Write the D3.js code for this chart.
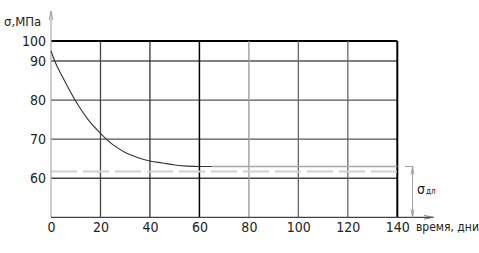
<!DOCTYPE html>
<html><head><meta charset="utf-8">
<script src="https://cdn.jsdelivr.net/npm/d3@7"></script>
<style>
body{margin:0;background:#fff;}
svg text{font-family:"Liberation Sans Narrow","DejaVu Sans Condensed",sans-serif;fill:#222;}
</style></head>
<body>
<svg id="c" width="479" height="253"></svg>
<script>
// ---- data ----
const days   = [0, 1.5, 5, 10, 15, 20, 25, 30, 35, 40, 45, 50, 55, 60, 65];
const sigma  = [95, 90, 85.5, 79.7, 75.0, 71.5, 68.6, 66.6, 65.3, 64.4, 63.9, 63.4, 63.1, 63.0, 63.0];
const plateauDays  = [65, 140];
const plateauSigma = [63, 63];
const longTermLevel = 61.7;           // σдл dashed line
const xTicks = [0, 20, 40, 60, 80, 100, 120, 140];
const yTicks = [60, 70, 80, 90, 100];
const yLabel = "σ,МПа";
const xLabel = "время, дни";

const svg = d3.select("#c");
const x = d3.scaleLinear().domain([0, 140]).range([51, 397.3]);
const y = d3.scaleLinear().domain([50, 90, 100]).range([217.3, 61, 41]);

const vColors = {20:"#444",40:"#333",60:"#000",80:"#999",100:"#666",120:"#666",140:"#000"};
const hColors = {60:"#444",70:"#555",80:"#555",90:"#555",100:"#000"};

// horizontal grid
svg.append("g").selectAll("line").data(yTicks).join("line")
  .attr("x1", x(0)).attr("x2", x(140))
  .attr("y1", d => y(d)).attr("y2", d => y(d))
  .attr("stroke", d => hColors[d]).attr("stroke-width", d => d === 100 ? 2 : 1.3);

// vertical grid
svg.append("g").selectAll("line").data(xTicks.filter(d => d > 0)).join("line")
  .attr("x1", d => x(d)).attr("x2", d => x(d))
  .attr("y1", y(100)).attr("y2", y(50))
  .attr("stroke", d => vColors[d]).attr("stroke-width", d => d === 140 ? 2 : (d === 60 ? 1.5 : 1.3));

// dashed long-term strength line
svg.append("line")
  .attr("x1", x(0)).attr("x2", x(140))
  .attr("y1", y(longTermLevel)).attr("y2", y(longTermLevel))
  .attr("stroke", "#d0d0d0").attr("stroke-width", 2).attr("stroke-dasharray", "26,6");

// left axis line with arrow
svg.append("line").attr("x1", x(0)).attr("x2", x(0)).attr("y1", y(50)).attr("y2", 12)
  .attr("stroke", "#aaa").attr("stroke-width", 1.2);
svg.append("path").attr("d", `M${x(0)-1.8},20 L${x(0)},11 L${x(0)+1.8},20`)
  .attr("fill", "none").attr("stroke", "#999").attr("stroke-width", 0.9);

// bottom axis line with arrow
svg.append("line").attr("x1", x(0)).attr("x2", 433).attr("y1", y(50)).attr("y2", y(50))
  .attr("stroke", "#444").attr("stroke-width", 1.3);
svg.append("path").attr("d", `M424,${y(50)-1.8} L434,${y(50)} L424,${y(50)+1.8}`)
  .attr("fill", "none").attr("stroke", "#777").attr("stroke-width", 0.9);

// plateau (light)
const line = d3.line().x(d => x(d[0])).y(d => y(d[1]));
svg.append("path").datum(d3.zip(plateauDays, plateauSigma))
  .attr("d", line).attr("fill", "none").attr("stroke", "#a8a8a8").attr("stroke-width", 1.6);

// main curve
svg.append("path").datum(d3.zip(days, sigma))
  .attr("d", line.curve(d3.curveMonotoneX))
  .attr("fill", "none").attr("stroke", "#333").attr("stroke-width", 1.1);

// axes labels
const ax = svg.append("g").attr("transform", `translate(0,${y(50)})`)
  .call(d3.axisBottom(x).tickValues(xTicks).tickSize(0).tickPadding(5).tickFormat(d3.format("d")));
ax.select(".domain").remove();
ax.selectAll("text").attr("font-size", 14);

const ay = svg.append("g").attr("transform", `translate(${x(0)},0)`)
  .call(d3.axisLeft(y).tickValues(yTicks).tickSize(0).tickPadding(5).tickFormat(d3.format("d")));
ay.select(".domain").remove();
ay.selectAll("text").attr("font-size", 14);

svg.append("text").attr("x", 4).attr("y", 26).attr("font-size", 13).text(yLabel);
svg.append("text").attr("x", 416).attr("y", 231).attr("font-size", 12).text(xLabel);

// σдл dimension
const dx = 412.5;
svg.append("line").attr("x1", 405).attr("x2", dx + 1).attr("y1", y(63)).attr("y2", y(63))
  .attr("stroke", "#999").attr("stroke-width", 0.9);
svg.append("line").attr("x1", dx).attr("x2", dx).attr("y1", y(63)).attr("y2", y(50))
  .attr("stroke", "#999").attr("stroke-width", 0.9);
svg.append("path").attr("d", `M${dx-1.5},${y(63)+8} L${dx},${y(63)} L${dx+1.5},${y(63)+8}`)
  .attr("fill", "none").attr("stroke", "#999").attr("stroke-width", 0.8);
svg.append("path").attr("d", `M${dx-1.5},${y(50)-8} L${dx},${y(50)} L${dx+1.5},${y(50)-8}`)
  .attr("fill", "none").attr("stroke", "#999").attr("stroke-width", 0.8);
const sl = svg.append("text").attr("x", 417).attr("y", 194).attr("font-size", 14);
sl.append("tspan").text("σ");
sl.append("tspan").attr("font-size", 8).attr("dx", 1).text("дл");
</script>
</body></html>
